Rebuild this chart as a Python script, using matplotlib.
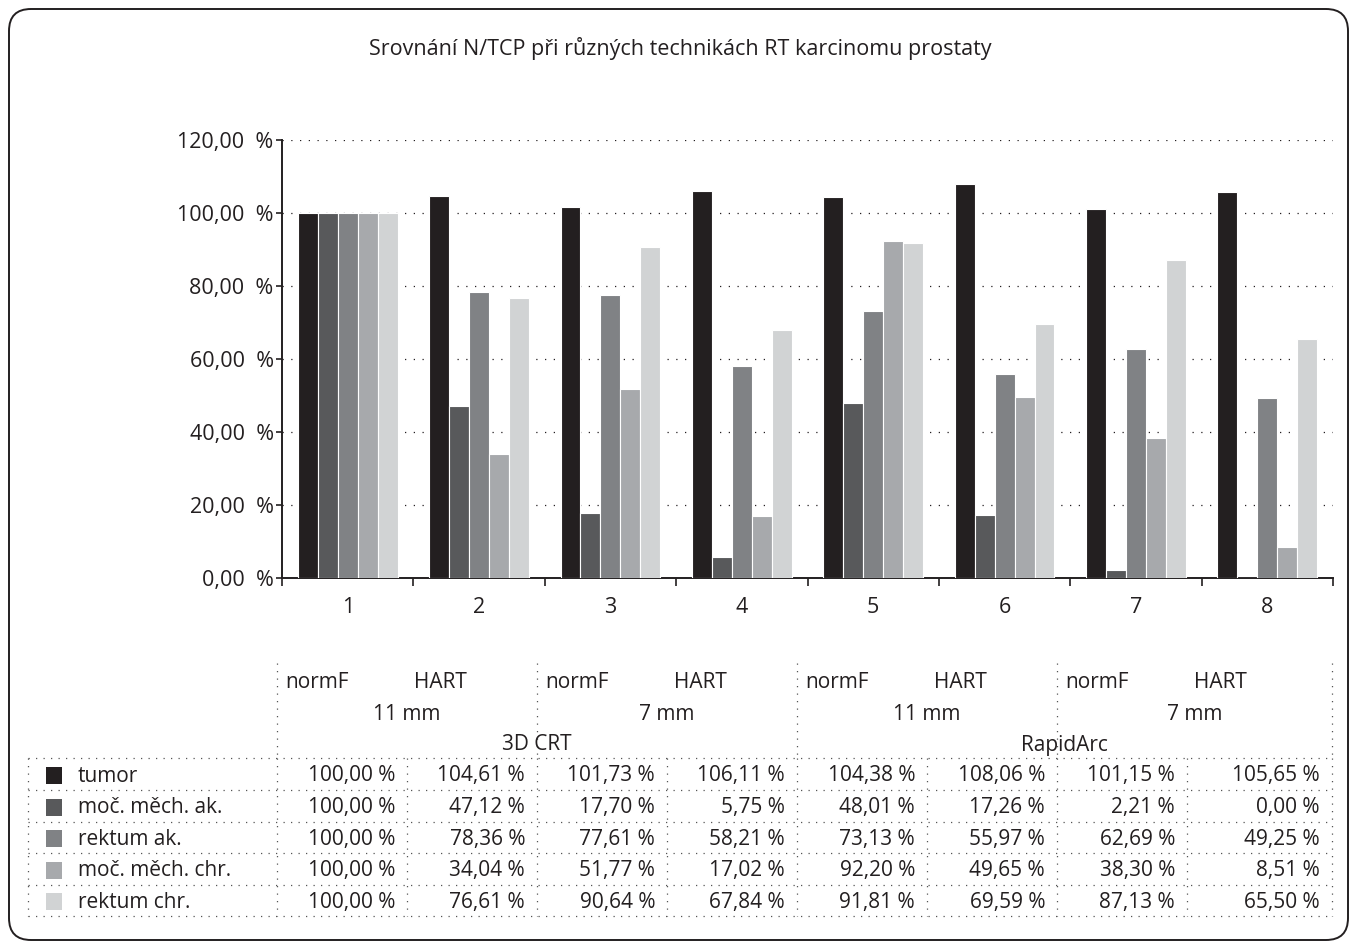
import numpy as np
import matplotlib
matplotlib.use('Agg')
import matplotlib.pyplot as plt
from matplotlib.patches import FancyBboxPatch, Rectangle

plt.rcParams['font.family'] = ['Open Sans', 'DejaVu Sans']

# data
groups = ['1', '2', '3', '4', '5', '6', '7', '8']
series = ['tumor', 'moč. měch. ak.', 'rektum ak.', 'moč. měch. chr.', 'rektum chr.']
tumor = [100.00, 104.61, 101.73, 106.11, 104.38, 108.06, 101.15, 105.65]
moc_ak = [100.00, 47.12, 17.70, 5.75, 48.01, 17.26, 2.21, 0.00]
rektum_ak = [100.00, 78.36, 77.61, 58.21, 73.13, 55.97, 62.69, 49.25]
moc_chr = [100.00, 34.04, 51.77, 17.02, 92.20, 49.65, 38.30, 8.51]
rektum_chr = [100.00, 76.61, 90.64, 67.84, 91.81, 69.59, 87.13, 65.50]
values = [tumor, moc_ak, rektum_ak, moc_chr, rektum_chr]
colors = ['#231f20', '#58595b', '#808285', '#a7a9ac', '#d1d3d4']

fractionation = ['normF', 'HART']
margins = ['11 mm', '7 mm', '11 mm', '7 mm']
techniques = ['3D CRT', 'RapidArc']
title = 'Srovnání N/TCP při různých technikách RT karcinomu prostaty'

dark = '#231f20'
W, H = 1357, 949


def pct(v, sep=' '):
    return f'{v:.2f}{sep}%'.replace('.', ',')


fig = plt.figure(figsize=(W / 100, H / 100), dpi=100)

# overlay in pixel coordinates for frame, title and table
ov = fig.add_axes([0, 0, 1, 1])
ov.set_xlim(0, W)
ov.set_ylim(H, 0)
ov.axis('off')
ov.patch.set_visible(False)

ov.add_patch(FancyBboxPatch((9, 9), W - 18, H - 18,
                            boxstyle='round,pad=0,rounding_size=22',
                            facecolor='none', edgecolor=dark, linewidth=1.4))
ov.text(680, 48, title, ha='center', va='center', fontsize=15.5, color=dark)

# bar chart
ax = fig.add_axes([282 / W, 1 - 578 / H, (1333 - 282) / W, (578 - 140) / H])
ax.set_zorder(2)
x = np.arange(len(groups))
w = 0.152
for i, (name, vals, c) in enumerate(zip(series, values, colors)):
    ax.bar(x + (i - 2) * w, vals, w, color=c, edgecolor='white',
           linewidth=0.8, zorder=3, label=name)

ax.set_xlim(-0.5, len(groups) - 0.5)
ax.set_ylim(0, 120)
ax.set_yticks(range(0, 121, 20))
ax.set_yticklabels([pct(v, '  ') for v in range(0, 121, 20)])
ax.yaxis.grid(True, linestyle=(0, (1, 6)), linewidth=0.9, color=dark, zorder=0)
ax.set_xticks(np.arange(-0.5, len(groups), 1))
ax.set_xticklabels([])
ax.set_xticks(x, minor=True)
ax.set_xticklabels(groups, minor=True)
ax.tick_params(axis='x', which='major', length=6, width=1.2, color=dark)
ax.tick_params(axis='x', which='minor', length=0, pad=14, labelsize=15.5, labelcolor=dark)
ax.tick_params(axis='y', length=4, width=1.2, color=dark, pad=2, labelsize=15.5, labelcolor=dark)
for s in ['top', 'right']:
    ax.spines[s].set_visible(False)
for s in ['left', 'bottom']:
    ax.spines[s].set_color(dark)
    ax.spines[s].set_linewidth(1.4)

# data table
dot = dict(color='#555555', linewidth=0.9, linestyle=(0, (1, 5)))
col_edges = [277, 407, 537, 667, 797, 927, 1057, 1187, 1332]
row_edges = [758, 790, 821.5, 853, 884.5, 916]
left = 28
head_top = 663

for xe in col_edges[::2]:
    ov.plot([xe, xe], [head_top, row_edges[0]], **dot)
for xe in [left] + col_edges:
    ov.plot([xe, xe], [row_edges[0], row_edges[-1]], **dot)
for ye in row_edges:
    ov.plot([left, col_edges[-1]], [ye, ye], **dot)

# header rows
for k in range(4):
    ov.text(col_edges[2 * k] + 8, 683, fractionation[0], ha='left', va='center',
            fontsize=15, color=dark)
    ov.text(col_edges[2 * k + 1] + 7, 683, fractionation[1], ha='left', va='center',
            fontsize=15, color=dark)
    ov.text((col_edges[2 * k] + col_edges[2 * k + 2]) / 2, 714, margins[k],
            ha='center', va='center', fontsize=15, color=dark)
for k in range(2):
    ov.text((col_edges[4 * k] + col_edges[4 * k + 4]) / 2, 745, techniques[k],
            ha='center', va='center', fontsize=15, color=dark)

# body rows
for r, (name, vals, c) in enumerate(zip(series, values, colors)):
    yc = (row_edges[r] + row_edges[r + 1]) / 2 + 2
    ov.add_patch(Rectangle((46, yc - 9), 16, 17, facecolor=c, edgecolor='none'))
    ov.text(78, yc, name, ha='left', va='center', fontsize=15, color=dark)
    for j, v in enumerate(vals):
        ov.text(col_edges[j + 1] - 12, yc, pct(v), ha='right', va='center',
                fontsize=15, color=dark)

fig.savefig('out.png', dpi=100)
